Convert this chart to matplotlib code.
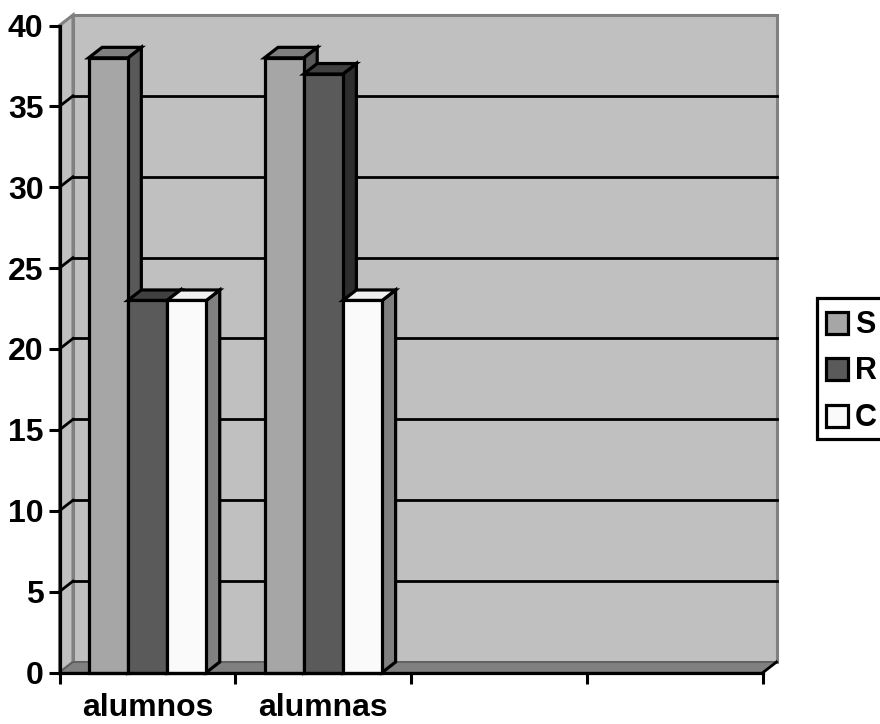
import matplotlib
matplotlib.use('Agg')
import matplotlib.pyplot as plt
from matplotlib.patches import Rectangle

plt.rcParams['font.family'] = ['Liberation Sans', 'DejaVu Sans']

categories = ['alumnos', 'alumnas']
series_names = ['S', 'R', 'C']
s_values = [38, 38]
r_values = [23, 37]
c_values = [23, 23]
y_ticks = [0, 5, 10, 15, 20, 25, 30, 35, 40]
x_slots = 4

# front, top, side colour of each series
series_colors = [('#a6a6a6', '#7f7f7f', '#595959'),
                 ('#5a5a5a', '#404040', '#2d2d2d'),
                 ('#fafafa', '#f0f0f0', '#808080')]

W, H = 880, 724
fig = plt.figure(figsize=(W / 100, H / 100), dpi=100, facecolor='white')
ax = fig.add_axes([59.5 / W, (H - 672.5) / H, 703.5 / W, 647 / H])
ax.set_xlim(0, x_slots)
ax.set_ylim(0, 40)
ax.patch.set_visible(False)

# depth of the fake 3d box, in data units
dx = 13.5 / (703.5 / x_slots)
dy = 10.5 / (647 / 40)
wall = '#c0c0c0'
rim = '#808080'

ax.fill([0, dx, dx, 0], [0, dy, 40 + dy, 40], facecolor=wall, edgecolor=rim, lw=2.2, clip_on=False, zorder=1)
ax.fill([dx, x_slots + dx, x_slots + dx, dx], [dy, dy, 40 + dy, 40 + dy], facecolor=wall, edgecolor=rim, lw=2.2, clip_on=False, zorder=1)
ax.fill([0, x_slots, x_slots + dx, dx], [0, 0, dy, dy], facecolor=rim, edgecolor='#555555', lw=1, clip_on=False, zorder=2)
ax.plot([x_slots, x_slots + dx], [0, dy], color='black', lw=2, clip_on=False, zorder=2)

for v in y_ticks[1:-1]:
    ax.plot([dx, x_slots + dx], [v + dy, v + dy], color='black', lw=2, clip_on=False, zorder=2)
    ax.plot([0, dx], [v, v + dy], color='black', lw=2, clip_on=False, zorder=2)

# bars
bar_w = 39.2 / (703.5 / x_slots)
gap = (1 - 3 * bar_w) / 2
all_values = [s_values, r_values, c_values]
z = 3
for i in range(len(categories)):
    for j, vals in enumerate(all_values):
        front, top, side = series_colors[j]
        x0 = i + gap + j * bar_w
        x1 = x0 + bar_w
        h = vals[i]
        ax.fill([x1, x1 + dx, x1 + dx, x1], [0, dy, h + dy, h], facecolor=side, edgecolor='black', lw=2.3, joinstyle='miter', clip_on=False, zorder=z)
        ax.fill([x0, x1, x1 + dx, x0 + dx], [h, h, h + dy, h + dy], facecolor=top, edgecolor='black', lw=2.3, joinstyle='miter', clip_on=False, zorder=z)
        ax.bar(x0, h, width=bar_w, align='edge', facecolor=front, edgecolor='black', lw=2.3, clip_on=False, zorder=z + 0.5)
        z += 1

for name in ['top', 'right']:
    ax.spines[name].set_visible(False)
for name in ['left', 'bottom']:
    ax.spines[name].set_linewidth(2.3)
    ax.spines[name].set_zorder(50)

ax.set_yticks(y_ticks)
ax.set_xticks(range(x_slots + 1))
ax.set_xticklabels([])
ax.set_xticks([i + 0.5 for i in range(len(categories))], labels=categories, minor=True)
ax.tick_params(axis='both', which='major', length=8, width=2.2, labelsize=23, pad=3.5)
ax.tick_params(axis='x', which='minor', length=0, pad=15, labelsize=23)
for lab in ax.get_yticklabels() + ax.get_xticklabels(minor=True):
    lab.set_fontweight('bold')

# legend, its right side runs off the canvas
def px_rect(x, y, w, h, **kw):
    fig.add_artist(Rectangle((x / W, (H - y - h) / H), w / W, h / H, transform=fig.transFigure, **kw))

px_rect(817, 298, 80, 141, facecolor='white', edgecolor='black', lw=2.3)
legend_y = [323, 369, 416]
for name, colors, ly in zip(series_names, series_colors, legend_y):
    px_rect(826, ly - 11, 22, 22, facecolor=colors[0], edgecolor='black', lw=2.3)
    fig.text(855 / W, (H - ly - 2) / H, name, fontsize=22, fontweight='bold', va='center', ha='left')

fig.savefig('out.png', dpi=100, facecolor='white')
